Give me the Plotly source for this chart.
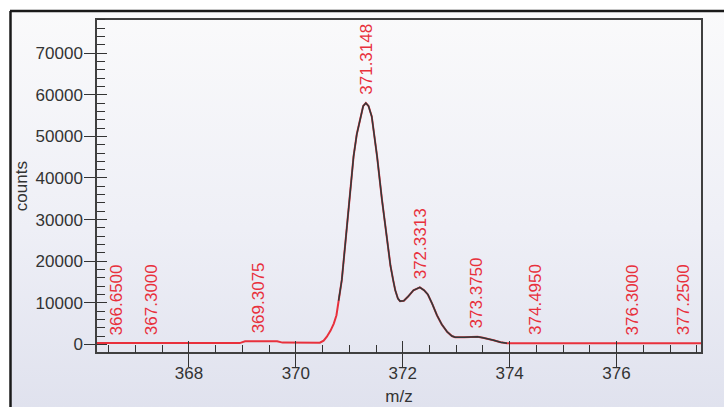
import numpy as np
import plotly.graph_objects as go

W, H = 724, 409
# plot area in pixels
PL, PR, PT, PB = 97, 701, 20, 354
FRAME_X, FRAME_Y = 10, 11

# ---- data ----
mz = [366.28, 368.95, 369.05, 369.30, 369.65, 369.75, 370.45, 370.52, 370.58, 370.65,
      370.71, 370.76, 370.80, 370.86, 370.92, 370.99, 371.08, 371.14, 371.21, 371.26,
      371.31, 371.36, 371.42, 371.52, 371.61, 371.70, 371.77, 371.82, 371.86, 371.91,
      371.95, 372.02, 372.10, 372.20, 372.32, 372.40, 372.47, 372.55, 372.64, 372.73,
      372.83, 372.92, 372.98, 373.15, 373.30, 373.40, 373.50, 373.58, 373.70, 373.83,
      373.95, 374.05, 377.58]
counts = [300, 300, 750, 800, 750, 420, 400, 900, 1840, 3300,
          5000, 7000, 10500, 15500, 23500, 33500, 45200, 50500, 55000, 57300,
          58000, 57300, 54800, 45200, 34900, 25300, 18950, 15500, 13000, 11000,
          10400, 10500, 11500, 13000, 13700, 13000, 12000, 9800, 7000, 4800,
          3040, 2000, 1700, 1700, 1850, 1850, 1600, 1400, 1000, 500,
          250, 250, 250]

peak_labels = ["366.6500", "367.3000", "369.3075", "371.3148", "372.3313",
               "373.3750", "374.4950", "376.3000", "377.2500"]
peak_mz = [366.65, 367.30, 369.3075, 371.3148, 372.3313, 373.375, 374.495, 376.30, 377.25]
peak_counts = [300, 300, 800, 58000, 13700, 1850, 250, 250, 250]

x_range = [366.28, 377.58]
y_range = [-1900, 78000]
dark_lo, dark_hi = 370.80, 373.95

mz_a = np.array(mz)
cnt_a = np.array(counts)
mask = (mz_a >= dark_lo) & (mz_a <= dark_hi)

FONT = "Liberation Sans, Arial, sans-serif"
TXT = "#333333"
RED = "#e8303c"

fig = go.Figure()

# background gradient inside the window frame (primary axes span the whole paper)
bx0 = FRAME_X / W
by1 = 1 - FRAME_Y / H
fig.add_trace(go.Scatter(
    x=[bx0, 1, 1, bx0, bx0], y=[0, 0, by1, by1, 0], mode="lines", fill="toself",
    fillgradient=dict(type="vertical",
                      colorscale=[[0, "#e0e2ee"], [0.45, "#eeeff6"], [1, "#fafafb"]]),
    line=dict(width=0), hoverinfo="skip", showlegend=False, xaxis="x", yaxis="y"))

# red profile
fig.add_trace(go.Scatter(x=mz_a, y=cnt_a, mode="lines", line=dict(color=RED, width=2),
                         hoverinfo="skip", showlegend=False, xaxis="x2", yaxis="y2"))
# dark segment
fig.add_trace(go.Scatter(x=mz_a[mask], y=cnt_a[mask], mode="lines",
                         line=dict(color="#2c3c3c", width=1.5),
                         hoverinfo="skip", showlegend=False, xaxis="x2", yaxis="y2"))

xd = [PL / W, PR / W]
yd = [(H - PB) / H, (H - PT) / H]

for lab, x, y in zip(peak_labels, peak_mz, peak_counts):
    fig.add_annotation(x=x, y=y, xref="x2", yref="y2", text=lab, showarrow=False,
                       textangle=-90, xanchor="center", yanchor="bottom", yshift=6,
                       font=dict(family=FONT, size=17, color=RED))

fig.update_layout(
    width=W, height=H, margin=dict(l=0, r=0, t=0, b=0),
    paper_bgcolor="#ffffff", plot_bgcolor="rgba(0,0,0,0)",
    showlegend=False,
    font=dict(family=FONT, size=17, color=TXT),
    xaxis=dict(domain=[0, 1], range=[0, 1], visible=False, fixedrange=True),
    yaxis=dict(domain=[0, 1], range=[0, 1], visible=False, fixedrange=True),
    xaxis2=dict(domain=xd, anchor="y2", range=x_range, showgrid=False, zeroline=False,
                showline=True, linecolor="#404040", linewidth=1.5, mirror=True,
                ticks="outside", ticklen=13, tickwidth=1, tickcolor="#333",
                tick0=0, dtick=2, ticklabelstandoff=-8,
                minor=dict(ticks="inside", ticklen=8, dtick=0.5, tick0=0, tickcolor="#333", showgrid=False),
                tickfont=dict(size=17, color=TXT),
                title=dict(text="m/z", standoff=8, font=dict(size=17, color=TXT))),
    yaxis2=dict(domain=yd, anchor="x2", range=y_range, showgrid=False, zeroline=False,
                showline=True, linecolor="#404040", linewidth=1.5, mirror=True,
                ticks="outside", ticklen=11, tickwidth=1, tickcolor="#333",
                tick0=0, dtick=10000, tickformat="d", ticklabelstandoff=-2,
                minor=dict(ticks="inside", ticklen=8, dtick=2000, tick0=0, tickcolor="#333", showgrid=False),
                tickfont=dict(size=17, color=TXT),
                title=dict(text="counts", standoff=4, font=dict(size=17, color=TXT))),
    xaxis3=dict(overlaying="x2", anchor="y2", range=x_range, showgrid=False, zeroline=False,
                showline=False, ticks="inside", ticklen=11, tickwidth=1, tickcolor="#333",
                tick0=0, dtick=2, showticklabels=False),
    yaxis3=dict(overlaying="y2", anchor="x2", range=y_range, showgrid=False, zeroline=False,
                showline=False, ticks="inside", ticklen=10, tickwidth=1, tickcolor="#333",
                tick0=0, dtick=10000, showticklabels=False),
)
# invisible anchor traces so the overlay tick axes render
fig.add_trace(go.Scatter(x=[x_range[0]], y=[y_range[0]], mode="markers", marker=dict(opacity=0),
                         hoverinfo="skip", showlegend=False, xaxis="x3", yaxis="y2"))
fig.add_trace(go.Scatter(x=[x_range[0]], y=[y_range[0]], mode="markers", marker=dict(opacity=0),
                         hoverinfo="skip", showlegend=False, xaxis="x2", yaxis="y3"))

# outer window frame (left and top edges)
fig.add_shape(type="line", xref="paper", yref="paper", x0=(FRAME_X + 0.5) / W, x1=(FRAME_X + 0.5) / W,
              y0=0, y1=by1, line=dict(color="#1a1a1a", width=2.5))
fig.add_shape(type="line", xref="paper", yref="paper", x0=FRAME_X / W, x1=1,
              y0=by1, y1=by1, line=dict(color="#1a1a1a", width=2.5))

fig.write_html("out.html", config={"displayModeBar": False},
               post_script="document.body.style.margin='0';")
